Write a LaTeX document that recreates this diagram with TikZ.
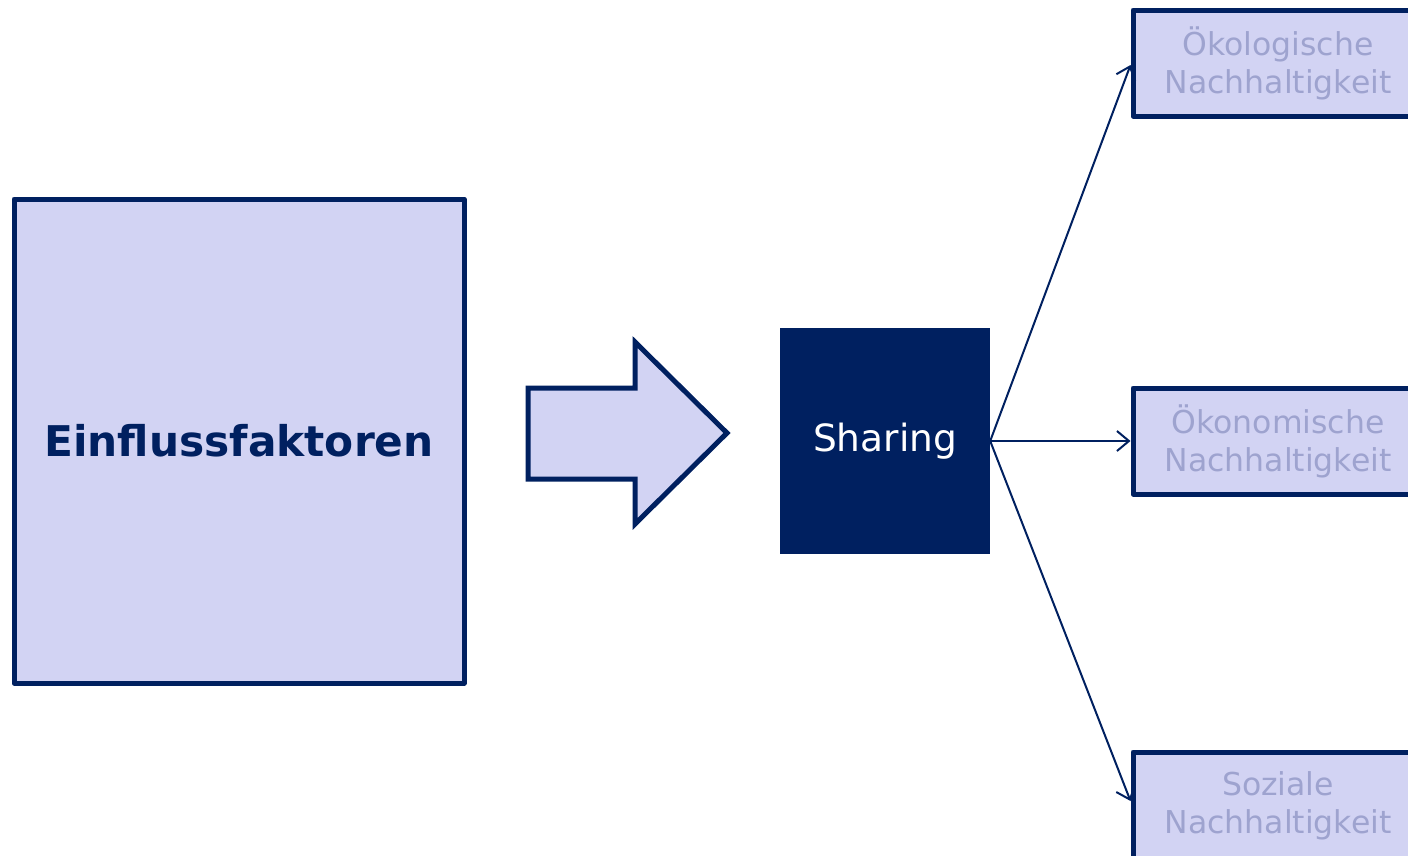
\documentclass[tikz,border=0pt]{standalone}
\usepackage{fontspec}
\setmainfont{DejaVu Sans}
\usetikzlibrary{arrows.meta}
\definecolor{navy}{HTML}{002060}
\definecolor{lilac}{HTML}{D2D3F3}
\definecolor{greytext}{HTML}{9EA3CF}
\tikzset{
  lilacbox/.style={draw=navy, fill=lilac, line width=5pt, line join=round,
    inner sep=0pt, align=center},
  outcome/.style={lilacbox, minimum width=290pt, minimum height=106pt,
    text=greytext, font=\fontsize{31.5}{38}\selectfont},
  link/.style={draw=navy, line width=2pt,
    -{Straight Barb[length=12pt,width=20pt,line width=2pt]}},
}
\begin{document}
\begin{tikzpicture}[x=1pt, y=-1pt]
  \useasboundingbox (0,0) rectangle (1408,855);
  \clip (0,0) rectangle (1408,855);

  % factors box
  \node[lilacbox, minimum width=450pt, minimum height=484pt,
        text=navy, font=\fontsize{42.3}{50}\selectfont\bfseries]
       (factors) at (239,441) {Einflussfaktoren};

  % block arrow
  \draw[navy, fill=lilac, line width=5pt, line join=miter]
    (528,388) -- (635,388) -- (635,342) -- (727,433)
    -- (635,524) -- (635,479) -- (528,479) -- cycle;

  % central node
  \node[fill=navy, minimum width=210pt, minimum height=226pt, inner sep=0pt,
        text=white, font=\fontsize{37.5}{44}\selectfont]
       (sharing) at (885,441) {Sharing};

  % outcomes
  \node[outcome] (oeko)  at (1278,63)  {Ökologische\\Nachhaltigkeit};
  \node[outcome] (oekon) at (1278,441) {Ökonomische\\Nachhaltigkeit};
  \node[outcome, minimum height=108pt] (sozial) at (1278,806) {Soziale\\Nachhaltigkeit};

  % connectors
  \coordinate (out) at (sharing.east);
  \draw[link] (out) -- (oeko.west |- 0,65);
  \draw[link] (out) -- (oekon.west);
  \draw[link] (out) -- (sozial.west |- 0,801);
\end{tikzpicture}
\end{document}
